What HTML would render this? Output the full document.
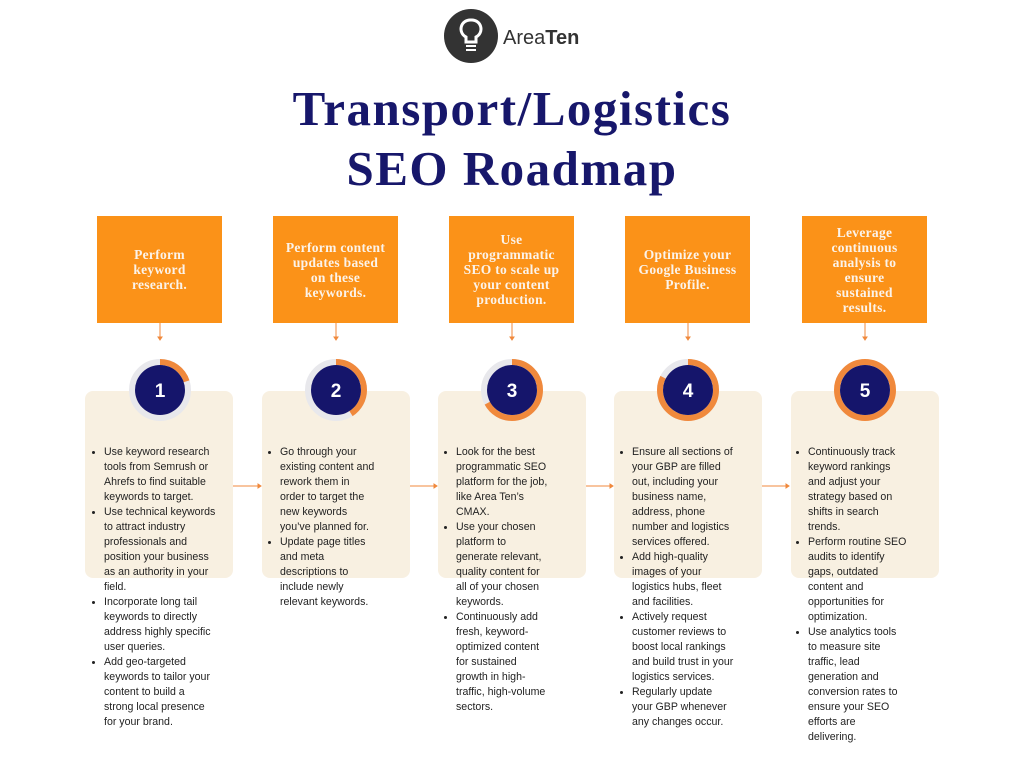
<!DOCTYPE html>
<html><head><meta charset="utf-8"><style>
*{margin:0;padding:0;box-sizing:border-box}
body{width:1024px;height:768px;background:#fff;position:relative;overflow:hidden;font-family:"Liberation Sans",sans-serif}
.t{position:absolute;left:0;width:1024px;text-align:center;color:#17176b;font-family:"Liberation Serif",serif;font-weight:bold;font-size:49px;letter-spacing:1.5px}
.ob{position:absolute;top:216px;width:125px;height:107px;background:#fb9218;color:#fbf3ea;font-family:"Liberation Serif",serif;font-weight:bold;font-size:13.5px;line-height:15px;text-align:center;display:flex;align-items:center;justify-content:center;letter-spacing:0.3px}
.cb{position:absolute;top:391px;width:148px;height:187px;background:#f8f0e1;border-radius:8px}
.tx{position:absolute;top:438px;font-size:10.6px;line-height:15px;color:#222;white-space:nowrap}
.tx div{position:relative;padding-left:12px}
.tx div:before{content:"";position:absolute;left:0;top:6px;width:3px;height:3px;border-radius:50%;background:#222}
</style></head><body>
<svg style="position:absolute;left:0;top:0" width="1024" height="768">
<circle cx="471" cy="36" r="27" fill="#333"/>
<path d="M471 20a9 9 0 0 1 5 17v5h-10v-5a9 9 0 0 1 5-17z" fill="none" stroke="#fff" stroke-width="3"/>
<rect x="466" y="45" width="10" height="2" fill="#fff"/><rect x="466" y="49" width="10" height="2" fill="#fff"/>
<text x="503" y="44" font-family="Liberation Sans" font-size="20" fill="#333">Area<tspan font-weight="bold">Ten</tspan></text>
<g fill="#f0893c" stroke="#f0893c">
<path d="M160 323v15M336 323v15M512 323v15M688 323v15M865 323v15" stroke-width="1"/>
<path d="M233 486h26M409 486h26M585 486h26M761 486h26" stroke-width="1"/>
<path d="M258 484l3 2-3 2zM434 484l3 2-3 2zM610 484l3 2-3 2zM786 484l3 2-3 2z"/>
<path d="M158 337l2 3 2-3zM334 337l2 3 2-3zM510 337l2 3 2-3zM686 337l2 3 2-3zM863 337l2 3 2-3z"/>
</g>
</svg>
<div class="t" style="top:80px">Transport/Logistics</div>
<div class="t" style="top:140px">SEO Roadmap</div>

<div class="ob" style="left:97px">Perform<br>keyword<br>research.</div>
<div class="ob" style="left:273px">Perform content<br>updates based<br>on these<br>keywords.</div>
<div class="ob" style="left:449px">Use<br>programmatic<br>SEO to scale up<br>your content<br>production.</div>
<div class="ob" style="left:625px">Optimize your<br>Google Business<br>Profile.</div>
<div class="ob" style="left:802px">Leverage<br>continuous<br>analysis to<br>ensure<br>sustained<br>results.</div>

<div class="cb" style="left:85px"></div>
<div class="cb" style="left:262px"></div>
<div class="cb" style="left:438px"></div>
<div class="cb" style="left:614px"></div>
<div class="cb" style="left:791px"></div>

<svg style="position:absolute;left:0;top:0" width="1024" height="768">
<g fill="none" stroke-width="6">
<circle cx="160" cy="390" r="28" stroke="#e8e8ec"/><circle cx="336" cy="390" r="28" stroke="#e8e8ec"/><circle cx="512" cy="390" r="28" stroke="#e8e8ec"/><circle cx="688" cy="390" r="28" stroke="#e8e8ec"/>
<g stroke="#f0893c">
<circle cx="160" cy="390" r="28" transform="rotate(-90 160 390)" stroke-dasharray="35 200"/>
<circle cx="336" cy="390" r="28" transform="rotate(-90 336 390)" stroke-dasharray="72 200"/>
<circle cx="512" cy="390" r="28" transform="rotate(-90 512 390)" stroke-dasharray="118 200"/>
<circle cx="688" cy="390" r="28" transform="rotate(-90 688 390)" stroke-dasharray="145 200"/>
<circle cx="865" cy="390" r="28"/>
</g></g>
<g fill="#15156b"><circle cx="160" cy="390" r="25"/><circle cx="336" cy="390" r="25"/><circle cx="512" cy="390" r="25"/><circle cx="688" cy="390" r="25"/><circle cx="865" cy="390" r="25"/></g>
<g fill="#fff" font-family="Liberation Sans" font-weight="bold" font-size="19" text-anchor="middle">
<text x="160" y="397">1</text><text x="336" y="397">2</text><text x="512" y="397">3</text><text x="688" y="397">4</text><text x="865" y="397">5</text></g>
</svg>

<div class="tx" style="left:92px;top:445px">
<div>Use keyword research<br>tools from Semrush or<br>Ahrefs to find suitable<br>keywords to target.</div>
<div>Use technical keywords<br>to attract industry<br>professionals and<br>position your business<br>as an authority in your<br>field.</div>
<div>Incorporate long tail<br>keywords to directly<br>address highly specific<br>user queries.</div>
<div>Add geo-targeted<br>keywords to tailor your<br>content to build a<br>strong local presence<br>for your brand.</div>
</div>
<div class="tx" style="left:268px;top:445px">
<div>Go through your<br>existing content and<br>rework them in<br>order to target the<br>new keywords<br>you’ve planned for.</div>
<div>Update page titles<br>and meta<br>descriptions to<br>include newly<br>relevant keywords.</div>
</div>
<div class="tx" style="left:444px;top:445px">
<div>Look for the best<br>programmatic SEO<br>platform for the job,<br>like Area Ten’s<br>CMAX.</div>
<div>Use your chosen<br>platform to<br>generate relevant,<br>quality content for<br>all of your chosen<br>keywords.</div>
<div>Continuously add<br>fresh, keyword-<br>optimized content<br>for sustained<br>growth in high-<br>traffic, high-volume<br>sectors.</div>
</div>
<div class="tx" style="left:620px;top:445px">
<div>Ensure all sections of<br>your GBP are filled<br>out, including your<br>business name,<br>address, phone<br>number and logistics<br>services offered.</div>
<div>Add high-quality<br>images of your<br>logistics hubs, fleet<br>and facilities.</div>
<div>Actively request<br>customer reviews to<br>boost local rankings<br>and build trust in your<br>logistics services.</div>
<div>Regularly update<br>your GBP whenever<br>any changes occur.</div>
</div>
<div class="tx" style="left:796px;top:445px">
<div>Continuously track<br>keyword rankings<br>and adjust your<br>strategy based on<br>shifts in search<br>trends.</div>
<div>Perform routine SEO<br>audits to identify<br>gaps, outdated<br>content and<br>opportunities for<br>optimization.</div>
<div>Use analytics tools<br>to measure site<br>traffic, lead<br>generation and<br>conversion rates to<br>ensure your SEO<br>efforts are<br>delivering.</div>
</div>
</body></html>
